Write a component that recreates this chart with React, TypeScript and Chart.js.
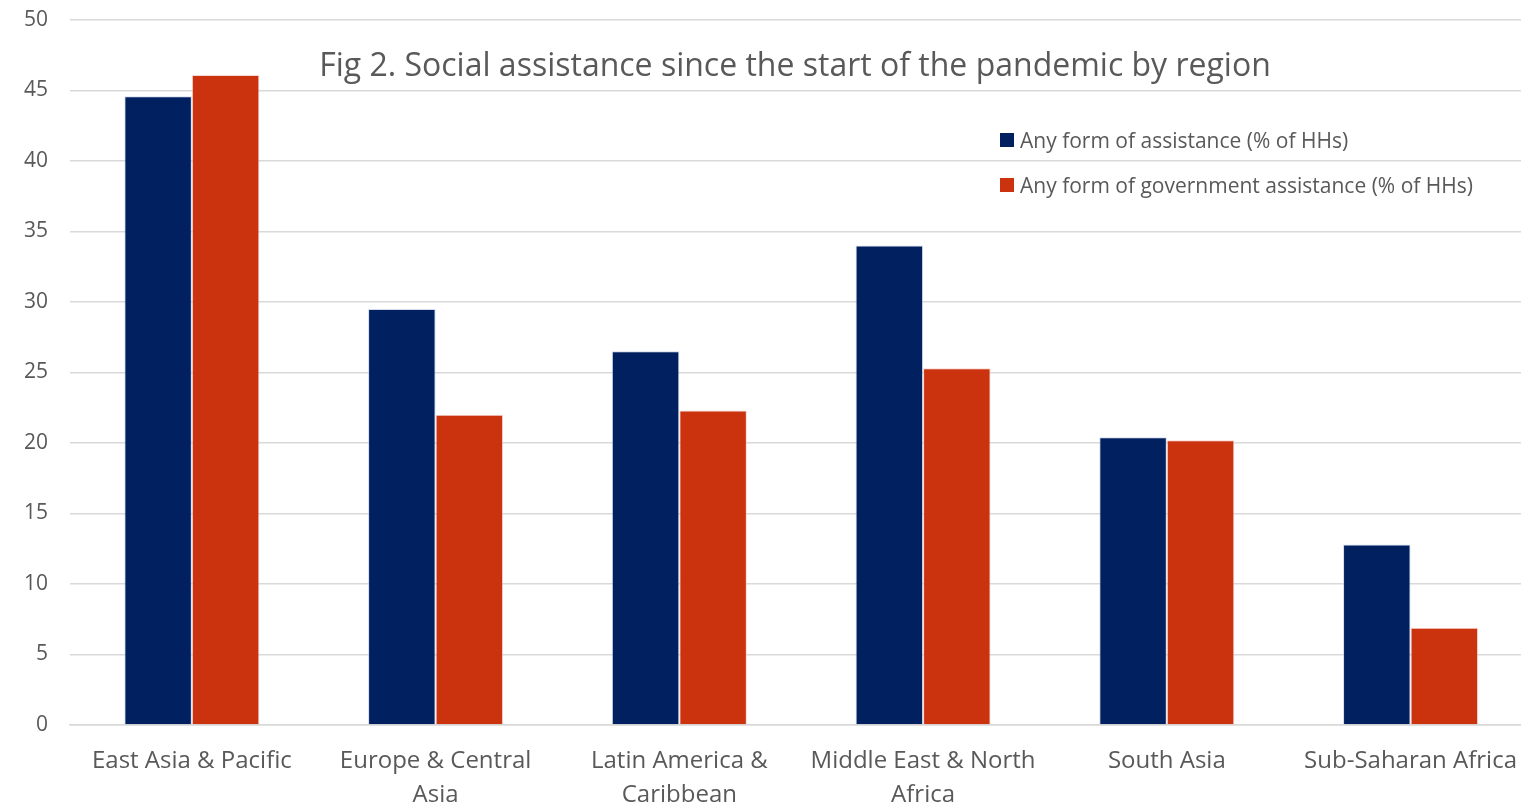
import React, { useEffect, useRef } from "react";
import { Chart, registerables } from "chart.js";

Chart.register(...registerables);

const regions: string[][] = [
  ["East Asia & Pacific"],
  ["Europe & Central", "Asia"],
  ["Latin America &", "Caribbean"],
  ["Middle East & North", "Africa"],
  ["South Asia"],
  ["Sub-Saharan Africa"],
];

const anyAssistance: number[] = [44.6, 29.5, 26.5, 34.0, 20.4, 12.8];
const governmentAssistance: number[] = [46.1, 22.0, 22.3, 25.3, 20.2, 6.9];

const seriesNames: string[] = [
  "Any form of assistance (% of HHs)",
  "Any form of government assistance (% of HHs)",
];

const titleText = "Fig 2. Social assistance since the start of the pandemic by region";

const NAVY = "#002060";
const RED = "#CB330F";
const TEXT = "#595959";
const GRID = "#D9D9D9";
const FONT = "'Open Sans', 'Noto Sans', sans-serif";

// Pins the plot area so the value axis runs from y=20 down to y=725.
const PLOT_TOP = 20;

// Draws the title and legend inside the plot area.
const overlayPlugin = {
  id: "overlay",
  afterDraw(chart: Chart) {
    const ctx = chart.ctx;
    ctx.save();
    ctx.fillStyle = TEXT;
    ctx.font = `32px ${FONT}`;
    ctx.textAlign = "center";
    ctx.textBaseline = "middle";
    ctx.fillText(titleText, 795, 67);

    const colors = [NAVY, RED];
    const ys = [140, 185];
    ctx.font = `21px ${FONT}`;
    ctx.textAlign = "left";
    seriesNames.forEach((name, i) => {
      ctx.fillStyle = colors[i];
      ctx.fillRect(1000, ys[i] - 7, 14, 14);
      ctx.fillStyle = TEXT;
      ctx.fillText(name, 1020, ys[i] + 2);
    });
    ctx.restore();
  },
};

export default function App() {
  const canvasRef = useRef<HTMLCanvasElement>(null);

  useEffect(() => {
    if (!canvasRef.current) return;
    const chart = new Chart(canvasRef.current, {
      type: "bar",
      data: {
        labels: regions,
        datasets: [
          {
            label: seriesNames[0],
            data: anyAssistance,
            backgroundColor: NAVY,
            borderColor: "rgba(180,195,225,0.6)",
            borderWidth: 1,
          },
          {
            label: seriesNames[1],
            data: governmentAssistance,
            backgroundColor: RED,
            borderColor: "rgba(240,190,180,0.6)",
            borderWidth: 1,
          },
        ],
      },
      options: {
        animation: false,
        responsive: false,
        maintainAspectRatio: false,
        layout: { padding: { top: PLOT_TOP, right: 0, left: 0, bottom: 0 } },
        datasets: {
          bar: { categoryPercentage: 0.554, barPercentage: 1 },
        },
        plugins: {
          legend: { display: false },
          title: { display: false },
          tooltip: { enabled: false },
        },
        scales: {
          x: {
            grid: { display: false, drawTicks: false },
            border: { display: true, color: GRID, width: 1.5 },
            ticks: {
              color: TEXT,
              font: { family: FONT, size: 24, lineHeight: 1.38 },
              padding: 20,
              maxRotation: 0,
              autoSkip: false,
            },
            afterFit(scale: any) {
              scale.height = 79;
            },
          },
          y: {
            min: 0,
            max: 50,
            ticks: {
              stepSize: 5,
              color: TEXT,
              font: { family: FONT, size: 21 },
              padding: 22,
            },
            grid: { color: GRID, lineWidth: 1.5, drawTicks: false },
            border: { display: false },
            afterFit(scale: any) {
              scale.width = 70;
              scale.paddingTop = 0;
              scale.paddingBottom = 0;
            },
          },
        },
      },
      plugins: [overlayPlugin],
    });
    return () => chart.destroy();
  }, []);

  return (
    <div
      style={{
        position: "fixed",
        left: 0,
        top: 0,
        width: 1521,
        height: 804,
        overflow: "hidden",
        background: "#fff",
      }}
    >
      <canvas ref={canvasRef} width={1537} height={804} style={{ width: 1537, height: 804, display: "block" }} />
    </div>
  );
}
